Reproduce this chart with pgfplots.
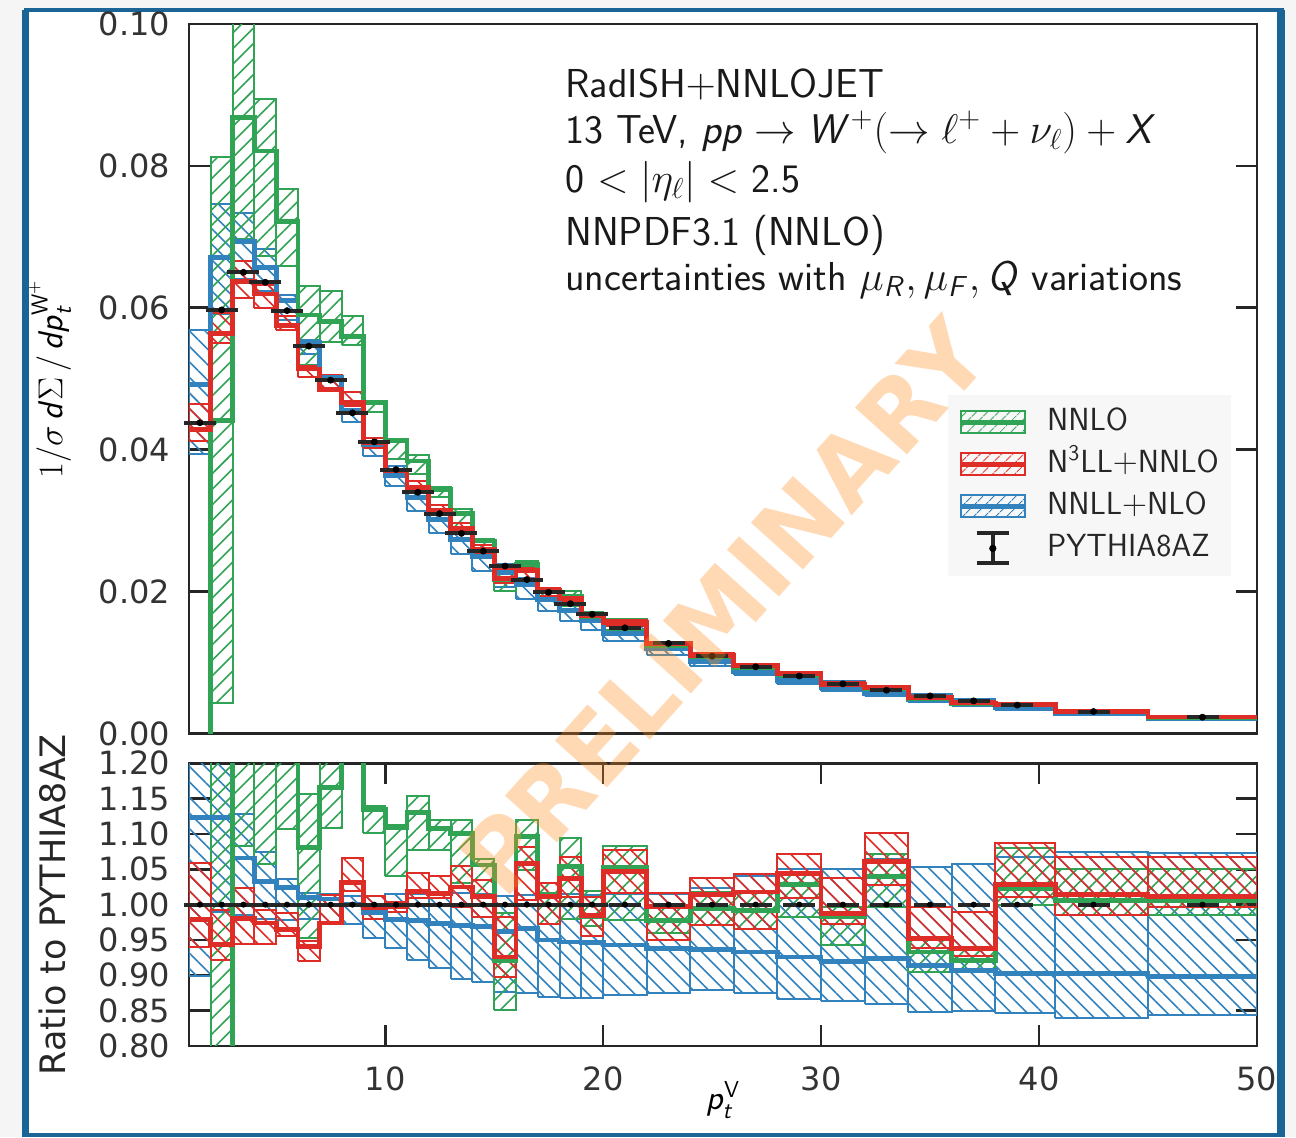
\documentclass[border=0pt]{standalone}
\usepackage{pgfplots}
\pgfplotsset{compat=1.18}
\usepackage{pgfplotstable}
\usetikzlibrary{patterns.meta}
\usepackage{fontspec}
\newfontfamily\dejavu{DejaVu Sans}
\DeclareMathAlphabet{\mathsfit}{OT1}{cmss}{m}{sl}
\definecolor{cGreen}{HTML}{31A354}
\definecolor{cRed}{HTML}{DE2D26}
\definecolor{cBlue}{HTML}{3182BD}
\definecolor{frameblue}{RGB}{27,100,150}
\definecolor{axisgray}{HTML}{262626}
\definecolor{wmark}{RGB}{255,140,30}

% ---------------- data: top panel ----------------
\pgfplotstableread{
x0 x1 c lo hi
1 2 -0.01 -0.02 -0.005
2 3 0.0441 0.0043 0.0813
3 4 0.0868 0.0697 0.1100
4 5 0.0821 0.0673 0.0894
5 6 0.0722 0.0659 0.0767
6 7 0.0590 0.0520 0.0631
7 8 0.0581 0.0552 0.0623
8 9 0.0560 0.0547 0.0588
9 10 0.04665 0.04529 0.04681
10 11 0.04125 0.03869 0.04137
11 12 0.03842 0.03662 0.03924
12 13 0.03435 0.03339 0.03472
13 14 0.03105 0.02905 0.03158
14 15 0.02714 0.02598 0.02737
15 16 0.02174 0.02008 0.02332
16 17 0.02378 0.02276 0.02430
17 18 0.02018 0.01934 0.02050
18 19 0.01929 0.01793 0.02002
19 20 0.01651 0.01630 0.01714
20 22 0.01569 0.01457 0.01614
22 24 0.01242 0.01219 0.01266
24 26 0.01085 0.01058 0.01110
26 28 0.00932 0.00908 0.00957
28 30 0.00833 0.00796 0.00846
30 32 0.00688 0.00660 0.00698
32 34 0.00634 0.00608 0.00654
34 36 0.00494 0.00480 0.00505
36 38 0.00424 0.00416 0.00432
38 40.75 0.00409 0.00400 0.00432
40.75 45 0.00312 0.00305 0.00326
45 50 0.00231 0.00227 0.00242
50 50 0.00231 0.00227 0.00242
}\gT
\pgfplotstableread{
x0 x1 c lo hi
1 2 0.04288 0.04117 0.04638
2 3 0.05636 0.05498 0.05928
3 4 0.06370 0.06136 0.06656
4 5 0.06195 0.06004 0.06315
5 6 0.05751 0.05692 0.05888
6 7 0.05138 0.05023 0.05176
7 8 0.04851 0.04841 0.05050
8 9 0.04660 0.04610 0.04818
9 10 0.04094 0.04024 0.04159
10 11 0.03709 0.03683 0.03735
11 12 0.03465 0.03431 0.03553
12 13 0.03150 0.03128 0.03224
13 14 0.02891 0.02812 0.02972
14 15 0.02598 0.02526 0.02660
15 16 0.02185 0.02119 0.02320
16 17 0.02296 0.02183 0.02348
17 18 0.02012 0.01934 0.02050
18 19 0.01898 0.01850 0.01954
19 20 0.01655 0.01604 0.01698
20 22 0.01560 0.01514 0.01606
22 24 0.01266 0.01207 0.01290
24 26 0.01105 0.01058 0.01130
26 28 0.00957 0.00908 0.00981
28 30 0.00846 0.00817 0.00868
30 32 0.00692 0.00681 0.00726
32 34 0.00647 0.00627 0.00672
34 36 0.00505 0.00497 0.00528
36 38 0.00431 0.00427 0.00455
38 40.75 0.00411 0.00404 0.00435
40.75 45 0.00314 0.00305 0.00331
45 50 0.00233 0.00229 0.00246
50 50 0.00233 0.00229 0.00246
}\rT
\pgfplotstableread{
x0 x1 c lo hi
1 2 0.04919 0.03938 0.05694
2 3 0.06704 0.05910 0.07463
3 4 0.06929 0.06403 0.07332
4 5 0.06570 0.06233 0.06831
5 6 0.06103 0.05829 0.06175
6 7 0.05515 0.05351 0.05553
7 8 0.05020 0.04860 0.05055
8 9 0.04520 0.04393 0.04574
9 10 0.04065 0.03917 0.04159
10 11 0.03642 0.03493 0.03776
11 12 0.03322 0.03135 0.03451
12 13 0.03016 0.02821 0.03147
13 14 0.02738 0.02524 0.02868
14 15 0.02490 0.02287 0.02609
15 16 0.02270 0.02070 0.02388
16 17 0.02096 0.01899 0.02198
17 18 0.01891 0.01731 0.02022
18 19 0.01733 0.01588 0.01857
19 20 0.01589 0.01458 0.01704
20 22 0.01405 0.01299 0.01512
22 24 0.01191 0.01111 0.01289
24 26 0.01020 0.00958 0.01116
26 28 0.00877 0.00823 0.00978
28 30 0.00750 0.00702 0.00851
30 32 0.00643 0.00604 0.00736
32 34 0.00564 0.00525 0.00650
34 36 0.00484 0.00449 0.00558
36 38 0.00417 0.00391 0.00486
38 40.75 0.00361 0.00338 0.00427
40.75 45 0.00280 0.00260 0.00333
45 50 0.00207 0.00194 0.00247
50 50 0.00207 0.00194 0.00247
}\bT
\pgfplotstableread{
xc p r
1.5 0.0438 1
2.5 0.0597 1
3.5 0.0650 1
4.5 0.0636 1
5.5 0.0596 1
6.5 0.0546 1
7.5 0.0498 1
8.5 0.0452 1
9.5 0.0411 1
10.5 0.0372 1
11.5 0.0340 1
12.5 0.0310 1
13.5 0.0282 1
14.5 0.0257 1
15.5 0.0236 1
16.5 0.0217 1
17.5 0.0199 1
18.5 0.0183 1
19.5 0.0168 1
21 0.0149 1
23 0.0127 1
25 0.0109 1
27 0.0094 1
29 0.0081 1
31 0.0070 1
33 0.0061 1
35 0.0053 1
37 0.0046 1
39 0.0040 1
42.5 0.0031 1
47.5 0.0023 1
}\pyth
% ---------------- data: ratio panel ----------------
\pgfplotstableread{
x0 x1 c lo hi
1 2 -1 -2 -0.5
2 3 0.74 0.07 1.36
3 4 1.33 1.083 1.6
4 5 1.29 1.057 1.405
5 6 1.21 1.107 1.287
6 7 1.081 0.953 1.156
7 8 1.166 1.109 1.25
8 9 1.239 1.21 1.30
9 10 1.135 1.102 1.139
10 11 1.109 1.040 1.112
11 12 1.130 1.077 1.154
12 13 1.108 1.077 1.12
13 14 1.101 1.03 1.12
14 15 1.056 1.011 1.065
15 16 0.921 0.851 0.988
16 17 1.096 1.049 1.12
17 18 1.014 0.972 1.03
18 19 1.054 0.98 1.094
19 20 0.983 0.97 1.02
20 22 1.053 0.978 1.083
22 24 0.978 0.96 0.997
24 26 0.995 0.971 1.018
26 28 0.992 0.966 1.018
28 30 1.028 0.983 1.044
30 32 0.983 0.943 0.997
32 34 1.040 0.997 1.072
34 36 0.933 0.905 0.952
36 38 0.921 0.905 0.940
38 40.75 1.023 1.0 1.08
40.75 45 1.006 0.985 1.05
45 50 1.006 0.985 1.05
50 50 1.006 0.985 1.05
}\gB
\pgfplotstableread{
x0 x1 c lo hi
1 2 0.979 0.94 1.059
2 3 0.944 0.921 0.993
3 4 0.980 0.944 1.024
4 5 0.974 0.944 0.993
5 6 0.965 0.955 0.988
6 7 0.941 0.920 0.948
7 8 0.974 0.972 1.014
8 9 1.031 1.020 1.066
9 10 0.996 0.979 1.012
10 11 0.997 0.990 1.004
11 12 1.019 1.009 1.045
12 13 1.016 1.009 1.040
13 14 1.025 0.997 1.054
14 15 1.011 0.983 1.035
15 16 0.926 0.898 0.983
16 17 1.058 1.006 1.082
17 18 1.011 0.972 1.030
18 19 1.037 1.011 1.068
19 20 0.985 0.955 1.011
20 22 1.047 1.016 1.078
22 24 0.997 0.950 1.016
24 26 1.014 0.971 1.037
26 28 1.018 0.966 1.044
28 30 1.044 1.009 1.072
30 32 0.988 0.973 1.037
32 34 1.061 1.028 1.102
34 36 0.952 0.938 0.997
36 38 0.938 0.928 0.990
38 40.75 1.028 1.011 1.087
40.75 45 1.014 0.985 1.068
45 50 1.011 0.997 1.068
50 50 1.011 0.997 1.068
}\rB
\pgfplotstableread{
x0 x1 c lo hi
1 2 1.123 0.899 1.30
2 3 1.123 0.99 1.25
3 4 1.066 0.985 1.128
4 5 1.033 0.98 1.074
5 6 1.024 0.978 1.036
6 7 1.010 0.98 1.017
7 8 1.008 0.976 1.015
8 9 1.000 0.972 1.012
9 10 0.989 0.953 1.012
10 11 0.979 0.939 1.015
11 12 0.977 0.922 1.015
12 13 0.973 0.91 1.015
13 14 0.971 0.895 1.017
14 15 0.969 0.89 1.015
15 16 0.962 0.877 1.012
16 17 0.966 0.875 1.013
17 18 0.950 0.870 1.016
18 19 0.947 0.868 1.015
19 20 0.946 0.868 1.014
20 22 0.943 0.872 1.015
22 24 0.938 0.875 1.015
24 26 0.936 0.879 1.024
26 28 0.933 0.875 1.040
28 30 0.926 0.867 1.051
30 32 0.919 0.863 1.051
32 34 0.924 0.860 1.065
34 36 0.914 0.848 1.053
36 38 0.907 0.850 1.057
38 40.75 0.903 0.846 1.068
40.75 45 0.902 0.839 1.074
45 50 0.898 0.844 1.073
50 50 0.898 0.844 1.073
}\bB

% hatched box for every bin: #1 table, #2 colour, #3 hatch angle
\newcommand\drawbands[3]{%
  \pgfplotstablegetrowsof{#1}%
  \pgfmathtruncatemacro\nlast{\pgfplotsretval-2}%
  \pgfplotsforeachungrouped \rowidx in {0,...,\nlast}{%
    \pgfplotstablegetelem{\rowidx}{x0}\of{#1}\let\xa\pgfplotsretval
    \pgfplotstablegetelem{\rowidx}{x1}\of{#1}\let\xb\pgfplotsretval
    \pgfplotstablegetelem{\rowidx}{lo}\of{#1}\let\ya\pgfplotsretval
    \pgfplotstablegetelem{\rowidx}{hi}\of{#1}\let\yb\pgfplotsretval
    \edef\temp{\noexpand\addplot[draw=#2, line width=1pt, line join=miter,
      pattern={Lines[angle=#3,distance=5.5pt,line width=0.8pt]}, pattern color=#2, forget plot]
      coordinates {(\xa,\ya) (\xa,\yb) (\xb,\yb) (\xb,\ya) (\xa,\ya)};}%
    \temp
  }%
}
\newcommand\bandline[2]{%
  \addplot[const plot, draw=#2, line width=2.4pt, forget plot] table[x=x0,y=c]{#1};
}

\pgfplotsset{panel/.style={
  scale only axis, width=534pt, xmin=1, xmax=50,
  axis line style={draw=axisgray, line width=1.35pt},
  every tick/.style={draw=axisgray, line width=1.35pt},
  major tick length=10.5pt, tick align=inside,
  ticklabel style={font=\dejavu\fontsize{16}{19}\selectfont, text=black!80},
  /pgf/number format/assume math mode=true,
  scaled y ticks=false,
  yticklabel style={/pgf/number format/fixed, /pgf/number format/fixed zerofill, /pgf/number format/precision=2, xshift=-6pt},
  xticklabel style={yshift=-7pt},
}}

\begin{document}
\begin{tikzpicture}
\useasboundingbox (0,0) rectangle (648pt,-568.5pt);
\fill[black!4] (0,0) rectangle (648pt,-568.5pt);
\fill[white] (12.75pt,-5pt) rectangle (640.5pt,-568.5pt);
\draw[frameblue, line width=2pt] (12pt,-5pt) -- (642pt,-5pt);
\draw[frameblue, line width=3.5pt] (12.75pt,-5pt) -- (12.75pt,-568.5pt);
\draw[frameblue, line width=4pt] (640.5pt,-5pt) -- (640.5pt,-568.5pt);
\draw[frameblue, line width=2pt] (12pt,-567.5pt) -- (642pt,-567.5pt);

% ---------------- top panel ----------------
\begin{axis}[panel, at={(94.5pt,-12pt)}, anchor=north west, height=354.75pt,
  ymin=0, ymax=0.1, ytick={0,0.02,0.04,0.06,0.08,0.1},
  xtick=\empty,
  ylabel={$1/\sigma\,\mathsfit{d}\Sigma\,/\,\mathsfit{dp}_{\mathsfit{t}}^{\mathsf{W}^+}$},
  ylabel style={at={(axis description cs:-0.130,0.5)}, anchor=center, font=\fontsize{16.5}{19}\selectfont},
  legend style={at={(0.7107,0.4778)}, anchor=north west, fill=black!3, draw=none,
    font=\sffamily\fontsize{16}{19}\selectfont, text=black!85, row sep=3.5pt,
    inner xsep=5pt, inner ysep=5pt,
    nodes={inner sep=1pt, text height=12pt, text depth=3.5pt},
    /tikz/every odd column/.append style={column sep=9pt}},
  legend cell align=left,
]
\drawbands{\bT}{cBlue}{-45}
\drawbands{\gT}{cGreen}{45}
\drawbands{\rT}{cRed}{-45}
\bandline{\bT}{cBlue}
\bandline{\gT}{cGreen}
\bandline{\rT}{cRed}
\addplot[only marks, mark=-, mark size=8pt, mark options={line width=2pt, draw=black!85}, forget plot] table[x=xc,y=p]{\pyth};
\addplot[only marks, mark=*, mark size=1.5pt, black, forget plot] table[x=xc,y=p]{\pyth};

\addlegendimage{legend image code/.code={
  \draw[cGreen, line width=1pt, pattern={Lines[angle=45,distance=4pt,line width=0.6pt]}, pattern color=cGreen] (0pt,-5.5pt) rectangle (32pt,5.5pt);
  \draw[cGreen, line width=2.4pt] (0pt,0pt)--(32pt,0pt);}}
\addlegendentry{NNLO}
\addlegendimage{legend image code/.code={
  \draw[cRed, line width=1pt, pattern={Lines[angle=45,distance=4pt,line width=0.6pt]}, pattern color=cRed] (0pt,-5.5pt) rectangle (32pt,5.5pt);
  \draw[cRed, line width=2.4pt] (0pt,0pt)--(32pt,0pt);}}
\addlegendentry{N\textsuperscript{3}LL$+$NNLO}
\addlegendimage{legend image code/.code={
  \draw[cBlue, line width=1pt, pattern={Lines[angle=45,distance=4pt,line width=0.6pt]}, pattern color=cBlue] (0pt,-5.5pt) rectangle (32pt,5.5pt);
  \draw[cBlue, line width=2.4pt] (0pt,0pt)--(32pt,0pt);}}
\addlegendentry{NNLL$+$NLO}
\addlegendimage{legend image code/.code={
  \draw[black!85, line width=2pt] (8pt,-7.5pt)--(24pt,-7.5pt) (8pt,7.5pt)--(24pt,7.5pt) (16pt,-7.5pt)--(16pt,7.5pt);
  \fill[black] (16pt,0pt) circle (1.6pt);}}
\addlegendentry{PYTHIA8AZ}
\end{axis}

% ---------------- ratio panel ----------------
\begin{axis}[panel, at={(94.5pt,-381.65pt)}, anchor=north west, height=141.35pt,
  ymin=0.8, ymax=1.2, ytick={0.80,0.85,0.90,0.95,1.00,1.05,1.10,1.15,1.20},
  xtick={10,20,30,40,50},
  xlabel={$\mathsfit{p}_{\mathsfit{t}}^{\mathsf{V}}$},
  xlabel style={at={(axis description cs:0.5,-0.19)}, anchor=center, font=\fontsize{16.5}{19}\selectfont},
  ylabel={Ratio to PYTHIA8AZ},
  ylabel style={at={(axis description cs:-0.128,0.5)}, anchor=center, font=\dejavu\fontsize{17.5}{20}\selectfont, text=black!85},
]
\drawbands{\bB}{cBlue}{-45}
\drawbands{\gB}{cGreen}{45}
\drawbands{\rB}{cRed}{-45}
\bandline{\bB}{cBlue}
\bandline{\gB}{cGreen}
\bandline{\rB}{cRed}
\addplot[only marks, mark=-, mark size=8pt, mark options={line width=2pt, draw=black!85}, forget plot] table[x=xc,y=r]{\pyth};
\addplot[only marks, mark=*, mark size=1.3pt, black, forget plot] table[x=xc,y=r]{\pyth};
\end{axis}

% ---------------- annotation text ----------------
\begin{scope}[every node/.style={anchor=base west, inner sep=0pt, font=\sffamily\fontsize{20.2}{24}\selectfont, text=black!90}]
\node at (282.5pt,-48.5pt) {RadISH$+$NNLOJET};
\node at (282.5pt,-71.5pt) {13 TeV, $\mathsfit{pp}\rightarrow \mathsfit{W}^{+}(\rightarrow \ell^{+}+\nu_{\ell})+\mathsfit{X}$};
\node at (282.5pt,-96pt) {0 $<|\eta_{\ell}|<$ 2.5};
\node at (282.5pt,-122.5pt) {NNPDF3.1 (NNLO)};
\node at (282.5pt,-145pt) {uncertainties with $\mu_{\mathsfit{R}},\mu_{\mathsfit{F}},\mathsfit{Q}$ variations};
\end{scope}

% ---------------- watermark ----------------
\node[rotate=48, font=\dejavu\bfseries\fontsize{48}{52}\selectfont, text=wmark, opacity=0.33] at (361.5pt,-303.5pt) {PRELIMINARY};
\end{tikzpicture}
\end{document}
